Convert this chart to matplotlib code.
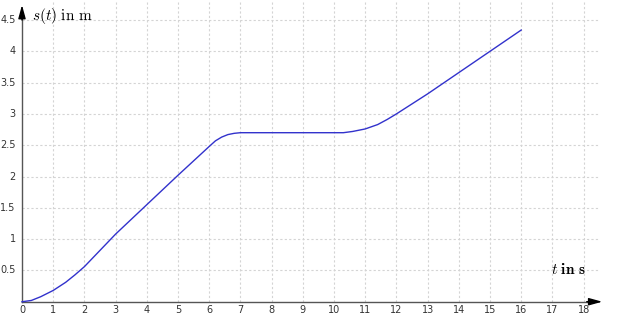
import matplotlib.pyplot as plt
import numpy as np

# weg-zeit-daten
t = [0, 0.3, 0.6, 1.0, 1.4, 1.7, 2.0, 3.0, 4.0, 5.0, 6.0, 6.2, 6.4, 6.6, 6.8, 7.0,
     10.3, 10.6, 11.0, 11.4, 11.7, 12.0, 13.0, 14.0, 15.0, 16.0]
s = [0, 0.02, 0.08, 0.18, 0.31, 0.43, 0.56, 1.08, 1.55, 2.02, 2.48, 2.57, 2.63, 2.67, 2.69, 2.70,
     2.70, 2.72, 2.76, 2.83, 2.91, 3.0, 3.32, 3.66, 4.0, 4.34]
xticks = list(range(0, 19))
yticks = [0.5, 1, 1.5, 2, 2.5, 3, 3.5, 4, 4.5]


def main():
    plt.rcParams['mathtext.fontset'] = 'cm'
    fig = plt.figure(figsize=(6.19, 3.25), dpi=100)
    ax = fig.add_axes([0, 0, 1, 1])
    ax.set_xlim(-0.705, 19.135)
    ax.set_ylim(-0.372, 4.82)
    ax.axis('off')

    # gitter
    for x in xticks[1:]:
        ax.plot([x, x], [0, 4.82], color='#d4d4d4', lw=0.8, ls=(0, (2, 2)), zorder=1)
    for y in yticks:
        ax.plot([0, 18.5], [y, y], color='#d4d4d4', lw=0.8, ls=(0, (2, 2)), zorder=1)

    # achsen mit pfeilen
    ax.plot([0, 18.3], [0, 0], color='#555555', lw=1, zorder=2)
    ax.plot([0, 0], [0, 4.55], color='#555555', lw=1, zorder=2)
    ax.annotate('', xy=(18.6, 0), xytext=(18.1, 0),
                arrowprops=dict(arrowstyle='-|>,head_length=0.8,head_width=0.22',
                                color='black', lw=1, shrinkA=0, shrinkB=0))
    ax.annotate('', xy=(0, 4.74), xytext=(0, 4.5),
                arrowprops=dict(arrowstyle='-|>,head_length=0.8,head_width=0.22',
                                color='black', lw=1, shrinkA=0, shrinkB=0))

    for x in xticks:
        ax.text(x, -0.13, str(x), ha='center', va='center', fontsize=7, color='#333333')
    for y in yticks:
        ax.text(-0.2, y, ('%g' % y), ha='right', va='center', fontsize=7, color='#333333')

    ax.plot(t, s, color='#3232cc', lw=1.0, zorder=3)

    ax.text(0.33, 4.5, r'$s(t)\ \mathrm{in\ m}$', fontsize=11, ha='left', va='baseline')
    ax.text(16.95, 0.45, r'$t\ \mathbf{in\ s}$', fontsize=11, ha='left', va='baseline')

    fig.savefig('out.png', dpi=100)


if __name__ == "__main__":
    main()
